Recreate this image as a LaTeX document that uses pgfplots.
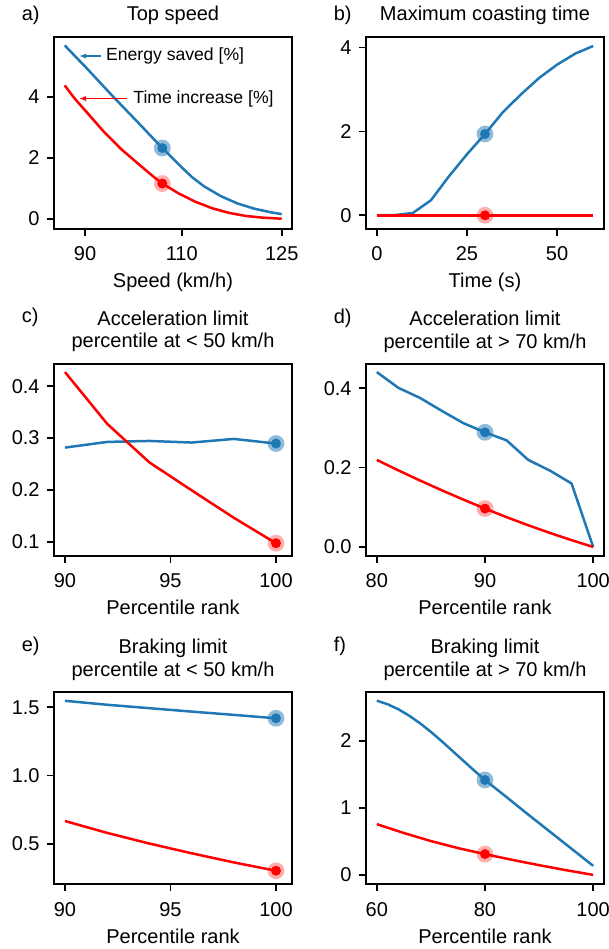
\documentclass[border=0pt]{standalone}
\usepackage{fontspec}
\setmainfont{Liberation Sans}
\usepackage{pgfplots}
\pgfplotsset{compat=1.18}
\usetikzlibrary{arrows.meta}
\definecolor{tabblue}{HTML}{1F77B4}
\definecolor{pred}{HTML}{FF0000}
\pgfplotsset{
  panel/.style={
    anchor=south west,
    scale only axis, width=119pt, height=96pt,
    axis line style={line width=0.8pt, black},
    every tick/.style={line width=0.8pt, black},
    major tick length=3.5pt,
    tick align=outside,
    tick pos=left,
    clip=false,
    xticklabel style={anchor=base, yshift=-12.5pt, inner sep=0pt},
    yticklabel style={anchor=east, xshift=-3.5pt, inner sep=0pt},
    xlabel style={at={(axis description cs:0.5,0)}, anchor=base, yshift=-29.5pt, inner sep=0pt},
  },
  bline/.style={tabblue, line width=1.25pt, no marks},
  rline/.style={pred, line width=1.25pt, no marks},
  bhalo/.style={only marks, color=tabblue, mark=*, mark size=4.2pt, mark options={draw opacity=0, fill=tabblue, fill opacity=0.5}},
  bdot/.style={only marks, color=tabblue, mark=*, mark size=2.5pt, mark options={draw opacity=0, fill=tabblue}},
  rhalo/.style={only marks, color=pred, mark=*, mark size=4.2pt, mark options={draw opacity=0, fill=pred, fill opacity=0.32}},
  rdot/.style={only marks, color=pred, mark=*, mark size=2.5pt, mark options={draw opacity=0, fill=pred}},
}
\newcommand{\titleone}[1]{\node[anchor=base] at (axis description cs:0.5,1) [yshift=8pt] {#1};}
\newcommand{\titletwo}[2]{\node[anchor=base] at (axis description cs:0.5,1) [yshift=19.2pt] {#1};
  \node[anchor=base] at (axis description cs:0.5,1) [yshift=8pt] {#2};}
\newcommand{\plabel}[2]{\node[anchor=base west] at (axis description cs:0,1) [xshift=-19.6pt, yshift=#2] {#1};}
\begin{document}
\begin{tikzpicture}
\path[use as bounding box] (0,0) rectangle (304.5pt,474.5pt);

% a) Top speed
\begin{axis}[panel, at={(27pt,360pt)},
  xmin=0.536, xmax=2.017, ymin=-0.327, ymax=5.954,
  xtick={0.729,1.331,1.953125}, xticklabels={90,110,125},
  ytick={0,2,4}, yticklabels={0,2,4},
  xlabel={Speed (km/h)}]
\addplot[bline] coordinates {(0.6025,5.68) (0.7435,4.91) (0.899,4.03) (1.0547,3.18) (1.210,2.32) (1.272,2.00) (1.3347,1.67) (1.397,1.36) (1.4695,1.07) (1.5732,0.75) (1.6769,0.51) (1.7806,0.34) (1.8844,0.22) (1.953,0.16)};
\addplot[rline] coordinates {(0.6025,4.37) (0.6647,3.94) (0.7435,3.47) (0.8472,2.85) (0.951,2.30) (1.0547,1.83) (1.1584,1.37) (1.210,1.16) (1.3139,0.83) (1.4177,0.56) (1.5213,0.35) (1.6251,0.20) (1.7288,0.10) (1.8325,0.045) (1.953,0.01)};
\addplot[bhalo] coordinates {(1.210,2.32)};
\addplot[bdot] coordinates {(1.210,2.32)};
\addplot[rhalo] coordinates {(1.210,1.16)};
\addplot[rdot] coordinates {(1.210,1.16)};
\draw[tabblue, line width=0.9pt, -{Latex[length=3.5pt,width=2.6pt]}] (axis cs:0.8267,5.33) -- (axis cs:0.6917,5.33);
\node[anchor=west, inner sep=0pt, font=\fontsize{8.8}{10}\selectfont] at (axis cs:0.858,5.33) {Energy saved [\%]};
\draw[pred, line width=0.9pt, -{Latex[length=3.5pt,width=2.6pt]}] (axis cs:0.9885,3.94) -- (axis cs:0.6917,3.94);
\node[anchor=west, inner sep=0pt, font=\fontsize{8.8}{10}\selectfont] at (axis cs:1.0277,3.94) {Time increase [\%]};
\titleone{Top speed}
\plabel{a)}{8pt}
\end{axis}

% b) Maximum coasting time
\begin{axis}[panel, at={(183pt,360pt)},
  xmin=-3, xmax=63, ymin=-0.327, ymax=4.255,
  xtick={0,25,50}, xticklabels={0,25,50},
  ytick={0,2,4}, yticklabels={0,2,4},
  xlabel={Time (s)}]
\addplot[bline] coordinates {(0,0) (5,0.005) (10,0.055) (15,0.358) (20,0.93) (25,1.456) (30,1.94) (35,2.465) (40,2.887) (45,3.277) (50,3.595) (55,3.857) (60,4.04)};
\addplot[rline] coordinates {(0,0) (5,0) (10,0) (15,0) (20,0) (25,0) (30,0) (35,0) (40,0) (45,0) (50,0) (55,0) (60,0)};
\addplot[bhalo] coordinates {(30,1.94)};
\addplot[bdot] coordinates {(30,1.94)};
\addplot[rhalo] coordinates {(30,0)};
\addplot[rdot] coordinates {(30,0)};
\titleone{Maximum coasting time}
\plabel{b)}{8pt}
\end{axis}

% c) Acceleration limit < 50
\begin{axis}[panel, at={(27pt,196.5pt)},
  xmin=89.48, xmax=100.76, ymin=0.0729, ymax=0.4427,
  xtick={90,95,100}, xticklabels={90,95,100},
  ytick={0.1,0.2,0.3,0.4}, yticklabels={0.1,0.2,0.3,0.4},
  xlabel={Percentile rank}]
\addplot[bline] coordinates {(90,0.2817) (92,0.2926) (94,0.2945) (96,0.2914) (98,0.2984) (100,0.2895)};
\addplot[rline] coordinates {(90,0.4272) (92,0.3275) (94,0.2532) (96,0.1995) (98,0.1466) (100,0.0975)};
\addplot[bhalo] coordinates {(100,0.2895)};
\addplot[bdot] coordinates {(100,0.2895)};
\addplot[rhalo] coordinates {(100,0.0975)};
\addplot[rdot] coordinates {(100,0.0975)};
\titletwo{Acceleration limit}{percentile at < 50 km/h}
\plabel{c)}{20.5pt}
\end{axis}

% d) Acceleration limit > 70
\begin{axis}[panel, at={(183pt,196.5pt)},
  xmin=79, xmax=101, ymin=-0.0228, ymax=0.461,
  xtick={80,90,100}, xticklabels={80,90,100},
  ytick={0,0.2,0.4}, yticklabels={0.0,0.2,0.4},
  xlabel={Percentile rank}]
\addplot[bline] coordinates {(80,0.4406) (82,0.4008) (84,0.3754) (86,0.343) (88,0.312) (90,0.2888) (92,0.2685) (94,0.2193) (96,0.1924) (98,0.160) (100,0.0)};
\addplot[rline] coordinates {(80,0.2193) (82,0.1928) (84,0.1673) (86,0.1428) (88,0.1193) (90,0.0967) (92,0.075) (94,0.0546) (96,0.0353) (98,0.0171) (100,0.0)};
\addplot[bhalo] coordinates {(90,0.2888)};
\addplot[bdot] coordinates {(90,0.2888)};
\addplot[rhalo] coordinates {(90,0.0967)};
\addplot[rdot] coordinates {(90,0.0967)};
\titletwo{Acceleration limit}{percentile at > 70 km/h}
\plabel{d)}{20.5pt}
\end{axis}

% e) Braking limit < 50
\begin{axis}[panel, at={(27pt,32.4pt)},
  xmin=89.48, xmax=100.76, ymin=0.2045, ymax=1.61,
  xtick={90,95,100}, xticklabels={90,95,100},
  ytick={0.5,1.0,1.5}, yticklabels={0.5,1.0,1.5},
  xlabel={Percentile rank}]
\addplot[bline] coordinates {(90,1.547) (92,1.518) (94,1.493) (96,1.468) (98,1.444) (100,1.419)};
\addplot[rline] coordinates {(90,0.667) (92,0.580) (94,0.502) (96,0.431) (98,0.364) (100,0.303)};
\addplot[bhalo] coordinates {(100,1.419)};
\addplot[bdot] coordinates {(100,1.419)};
\addplot[rhalo] coordinates {(100,0.303)};
\addplot[rdot] coordinates {(100,0.303)};
\titletwo{Braking limit}{percentile at < 50 km/h}
\plabel{e)}{20.5pt}
\end{axis}

% f) Braking limit > 70
\begin{axis}[panel, at={(183pt,32.4pt)},
  xmin=58, xmax=102, ymin=-0.139, ymax=2.727,
  xtick={60,80,100}, xticklabels={60,80,100},
  ytick={0,1,2}, yticklabels={0,1,2},
  xlabel={Percentile rank}]
\addplot[bline] coordinates {(60,2.60) (62,2.5465) (64,2.4715) (66,2.3755) (68,2.2625) (70,2.1345) (72,1.9955) (74,1.8495) (76,1.7035) (78,1.5575) (80,1.4165) (84,1.16) (88,0.90) (92,0.645) (96,0.39) (100,0.135)};
\addplot[rline] coordinates {(60,0.757) (65,0.625) (70,0.505) (75,0.40) (80,0.31) (85,0.225) (90,0.145) (95,0.07) (100,0.0)};
\addplot[bhalo] coordinates {(80,1.4165)};
\addplot[bdot] coordinates {(80,1.4165)};
\addplot[rhalo] coordinates {(80,0.31)};
\addplot[rdot] coordinates {(80,0.31)};
\titletwo{Braking limit}{percentile at > 70 km/h}
\plabel{f)}{20.5pt}
\end{axis}
\end{tikzpicture}
\end{document}
